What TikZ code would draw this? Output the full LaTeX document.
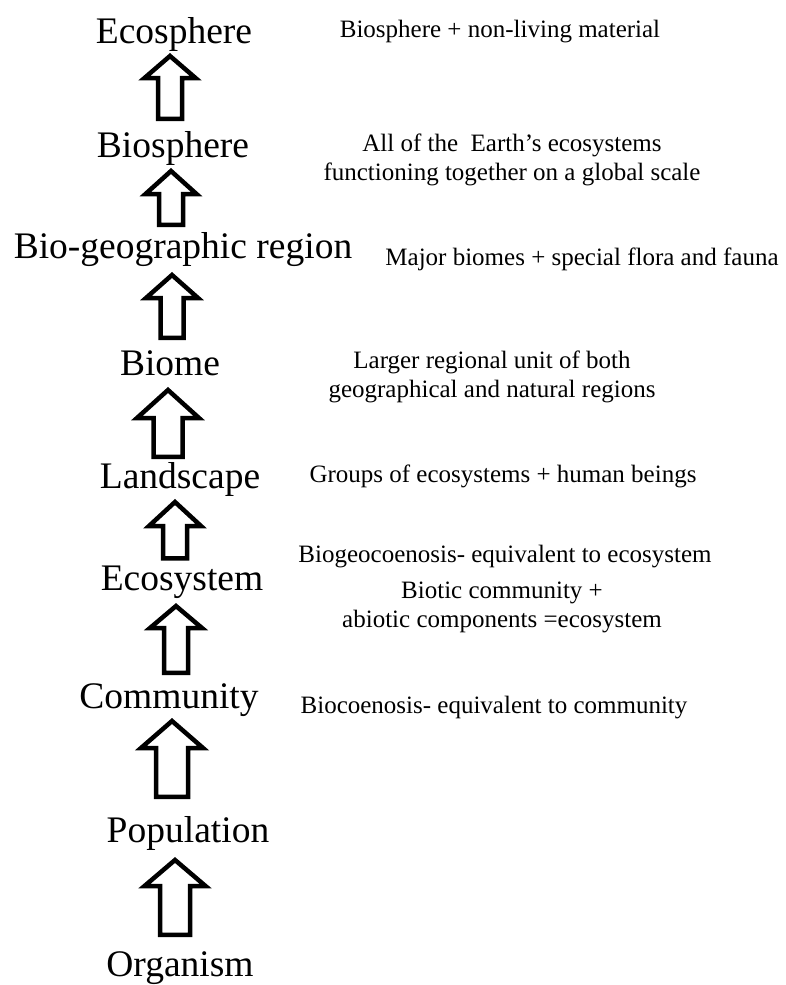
\documentclass[tikz,border=0pt]{standalone}
\usepackage{fontspec}
\setmainfont{Liberation Serif}
\usetikzlibrary{calc}

\begin{document}
\begin{tikzpicture}[x=1pt, y=-1pt,
    level/.style={inner sep=0pt, anchor=base, font=\fontsize{37.5}{40}\selectfont},
    note/.style={inner sep=0pt, anchor=base, align=center, font=\fontsize{25}{28.5}\selectfont},
    arr x/.store in=\arrx, arr hw/.store in=\arrhw, arr sw/.store in=\arrsw,
    arr hl/.store in=\arrhl, arr top/.store in=\arrtop, arr bot/.store in=\arrbot,
    uparrow/.style={draw, line width=4.5pt, line join=miter,
        arr x=172, arr hw=26, arr sw=12, arr hl=23, arr top=15, arr bot=10,
        to path={let \p1=(\tikztostart.north), \p2=(\tikztotarget.base) in
            (\arrx pt-\arrsw pt, \y1+\arrbot pt)
            -- (\arrx pt-\arrsw pt, \y2-\arrtop pt-\arrhl pt)
            -- (\arrx pt-\arrhw pt, \y2-\arrtop pt-\arrhl pt)
            -- (\arrx pt, \y2-\arrtop pt)
            -- (\arrx pt+\arrhw pt, \y2-\arrtop pt-\arrhl pt)
            -- (\arrx pt+\arrsw pt, \y2-\arrtop pt-\arrhl pt)
            -- (\arrx pt+\arrsw pt, \y1+\arrbot pt) -- cycle}},
    bigarrow/.style={uparrow, arr hw=31, arr sw=15, arr hl=27}]

    \useasboundingbox (0,0) rectangle (786,985);

    % Levels {ecosphere ... organism}
    \node [level] (ecosphere)  at (174,43)  {Ecosphere};
    \node [level] (biosphere)  at (173,157) {Biosphere};
    \node [level] (biogeo)     at (183,258) {Bio-geographic region};
    \node [level] (biome)      at (170,375) {Biome};
    \node [level] (landscape)  at (180,488) {Landscape};
    \node [level] (ecosystem)  at (182,590) {Ecosystem};
    \node [level] (community)  at (169,708) {Community};
    \node [level] (population) at (188,842) {Population};
    \node [level] (organism)   at (180,976) {Organism};

    % Notes (two-line notes sit on their last line)
    \node [note] (ecosphere-def) at (500,37)  {Biosphere + non-living material};
    \node [note] (biosphere-def) at (512,180) {All of the\ \ Earth’s ecosystems\\functioning together on a global scale};
    \node [note] (biogeo-def)    at (582,265) {Major biomes + special flora and fauna};
    \node [note] (biome-def)     at (492,397) {Larger regional unit of both\\geographical and natural regions};
    \node [note] (landscape-def) at (503,482) {Groups of ecosystems + human beings};
    \node [note] (ecosystem-def) at (505,562) {Biogeocoenosis- equivalent to ecosystem};
    \node [note] (ecosystem-eq)  at (502,627) {Biotic community +\\abiotic components =ecosystem};
    \node [note] (community-def) at (494,713) {Biocoenosis- equivalent to community};

    % Arrows
    \path (biosphere)  edge [uparrow, arr x=170, arr hw=25.5, arr hl=22, arr top=13, arr bot=12] (ecosphere);
    \path (biogeo)     edge [uparrow, arr x=171, arr hw=25.5, arr top=14, arr bot=7]  (biosphere);
    \path (biome)      edge [uparrow, arr x=172, arr sw=11.5, arr top=17, arr bot=12] (biogeo);
    \path (landscape)  edge [bigarrow, arr x=168, arr sw=14.5, arr hl=28, arr top=15, arr bot=5] (biome);
    \path (ecosystem)  edge [uparrow, arr x=175, arr hl=24, arr top=14, arr bot=7]  (landscape);
    \path (community)  edge [uparrow, arr x=176, arr hl=22, arr top=16, arr bot=10] (ecosystem);
    \path (population) edge [bigarrow, arr x=172, arr sw=16, arr top=13, arr bot=19] (community);
    \path (organism)   edge [bigarrow, arr x=175, arr hw=30.5, arr hl=26, arr top=18, arr bot=16] (population);

\end{tikzpicture}
\end{document}
